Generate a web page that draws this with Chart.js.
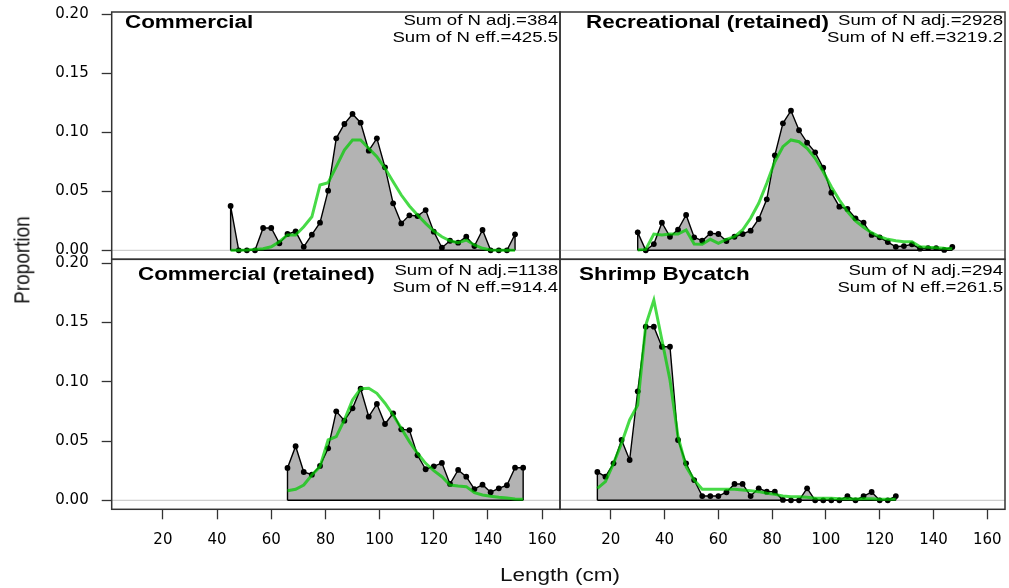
<!DOCTYPE html>
<html>
<head>
<meta charset="utf-8">
<script src="https://cdn.jsdelivr.net/npm/chart.js@4.4.1/dist/chart.umd.min.js"></script>
<style>
html,body{margin:0;padding:0;background:#fff;}
#wrap{position:relative;width:1009px;height:588px;overflow:hidden;background:#fff;}
#wrap canvas{position:absolute;left:0;top:0;}
.ttl{position:absolute;font-family:'Liberation Sans',Arial,sans-serif;color:#111;white-space:nowrap;line-height:1;}
#xt{left:560px;top:575px;font-size:18px;transform:translate(-50%,-50%) scaleX(1.25);}
#yt{left:22px;top:260px;font-size:19px;transform:translate(-50%,-50%) rotate(-90deg) scaleY(1.2);}
</style>
</head>
<body>
<div id="wrap">
<canvas id="c0" width="1009" height="588"></canvas>
<canvas id="c1" width="1009" height="588"></canvas>
<canvas id="c2" width="1009" height="588"></canvas>
<canvas id="c3" width="1009" height="588"></canvas>
<div class="ttl" id="xt">Length (cm)</div>
<div class="ttl" id="yt">Proportion</div>
</div>
<script>
// ---------- data ----------
const commercialLen = [45,48,51,54,57,60,63,66,69,72,75,78,81,84,87,90,93,96,99,102,105,108,111,114,117,120,123,126,129,132,135,138,141,144,147,150];
const commercialObs = [0.0375,0,0,0,0.0189,0.0189,0.006,0.0138,0.016,0.003,0.0132,0.0234,0.0505,0.0948,0.1069,0.1154,0.108,0.0843,0.0948,0.0702,0.0398,0.0228,0.0296,0.029,0.0341,0.0158,0.0022,0.0081,0.0065,0.0115,0.0036,0.0172,0,0,0,0.0135];
const commercialExp = [0,0,0.0003,0.0008,0.0014,0.003,0.0073,0.013,0.013,0.02,0.0284,0.0553,0.0572,0.0708,0.0849,0.0934,0.0934,0.0863,0.0792,0.0694,0.0581,0.0468,0.0375,0.0299,0.0228,0.0163,0.0115,0.0081,0.0065,0.0087,0.0045,0.0017,0.0003,0.0001,0.0001,0.0001];

const recreationalLen = [30,33,36,39,42,45,48,51,54,57,60,63,66,69,72,75,78,81,84,87,90,93,96,99,102,105,108,111,114,117,120,123,126,129,132,135,138,141,144,147];
const recreationalObs = [0.0152,0,0.0053,0.0234,0.0115,0.0175,0.0299,0.011,0.0081,0.0144,0.0138,0.0079,0.0115,0.0138,0.0166,0.0265,0.0432,0.0804,0.1075,0.1182,0.1016,0.0911,0.0829,0.0699,0.0488,0.0369,0.035,0.0271,0.0234,0.013,0.011,0.007,0.003,0.0036,0.0051,0.0014,0.0019,0.0019,0.0003,0.0028];
const recreationalExp = [0.0003,0.0008,0.0138,0.013,0.0138,0.0138,0.0172,0.0053,0.0051,0.0093,0.0059,0.0093,0.0115,0.0172,0.0271,0.0398,0.0567,0.075,0.0877,0.0934,0.0919,0.0863,0.0779,0.0665,0.0538,0.0426,0.0327,0.0248,0.0195,0.0149,0.0115,0.0093,0.0081,0.0073,0.0073,0.003,0.0025,0.0022,0.0017,0.0014];

const commRetLen = [66,69,72,75,78,81,84,87,90,93,96,99,102,105,108,111,114,117,120,123,126,129,132,135,138,141,144,147,150,153];
const commRetObs = [0.0273,0.0456,0.0239,0.0216,0.029,0.0439,0.0751,0.0672,0.0776,0.0942,0.0706,0.0813,0.0644,0.0734,0.0599,0.0593,0.038,0.0262,0.0287,0.0315,0.0138,0.0256,0.0199,0.0095,0.0132,0.0068,0.0101,0.0127,0.0275,0.0275];
const commRetExp = [0.0081,0.0093,0.0129,0.0213,0.0284,0.0509,0.0537,0.0678,0.0846,0.0942,0.0945,0.0903,0.0819,0.072,0.0608,0.0495,0.0397,0.0312,0.025,0.0199,0.0129,0.0121,0.0115,0.0064,0.0045,0.0034,0.0025,0.002,0.0011,0.0008];

const shrimpLen = [15,18,21,24,27,30,33,36,39,42,45,48,51,54,57,60,63,66,69,72,75,78,81,84,87,90,93,96,99,102,105,108,111,114,117,120,123,126];
const shrimpObs = [0.0239,0.0199,0.0312,0.0509,0.034,0.092,0.1465,0.1465,0.1296,0.1296,0.0509,0.0312,0.0171,0.0036,0.0036,0.0036,0.0068,0.0138,0.0138,0.0036,0.0101,0.0073,0.0073,0.0003,0,0,0.0101,0,0,0,0,0.0036,0,0.0036,0.007,0,0,0.0036];
const shrimpExp = [0.0101,0.0157,0.0312,0.0481,0.0678,0.0804,0.148,0.169,0.1353,0.1015,0.0537,0.0284,0.0171,0.0093,0.0093,0.0093,0.0093,0.0093,0.0087,0.008,0.0073,0.0059,0.005,0.0036,0.003,0.003,0.0025,0.0017,0.0017,0.0017,0.0014,0.0014,0.0011,0.0014,0.0014,0.0008,0.0008,0.0008];

const panelTitles = ['Commercial','Recreational (retained)','Commercial (retained)','Shrimp Bycatch'];
const sumAdjLabels = ['Sum of N adj.=384','Sum of N adj.=2928','Sum of N adj.=1138','Sum of N adj.=294'];
const sumEffLabels = ['Sum of N eff.=425.5','Sum of N eff.=3219.2','Sum of N eff.=914.4','Sum of N eff.=261.5'];
const yTickValues = [0, 0.05, 0.10, 0.15, 0.20];
const xTickValues = [20, 40, 60, 80, 100, 120, 140, 160];

// ---------- layout ----------
const W = 1009, H = 588;
const colEdges = [111.7, 560, 1007.7];
const rowEdges = [12, 259.3, 509.3];
const yRanges = [[-0.0076, 0.2017], [-0.0076, 0.2034]];
const xRange = [1.1, 166.6];
const titleX = [125, 586, 138, 579];
const titleBase = [28, 280];
const sumBase = [[25, 42], [275, 292]];
const FILL = '#b3b3b3';
const EXPCOL = 'rgba(0,204,0,0.72)';

function stretchText(ctx, txt, x, y, align, sx) {
  ctx.save();
  ctx.translate(x, y);
  ctx.scale(sx, 1);
  ctx.textAlign = align;
  ctx.textBaseline = 'alphabetic';
  ctx.fillText(txt, 0, 0);
  ctx.restore();
}

const framePlugin = {
  id: 'frame',
  afterDraw(chart, args, o) {
    const ctx = chart.ctx, a = chart.chartArea;
    ctx.save();
    ctx.strokeStyle = '#333';
    ctx.lineWidth = 1.5;
    ctx.strokeRect(a.left, a.top, a.right - a.left, a.bottom - a.top);
    ctx.fillStyle = '#000';
    ctx.font = 'bold 18px "Liberation Sans", Arial, sans-serif';
    stretchText(ctx, o.title, o.tx, o.tb, 'left', 1.245);
    ctx.font = '15px "Liberation Sans", Arial, sans-serif';
    stretchText(ctx, o.adj, a.right - 2, o.sb[0], 'right', 1.24);
    stretchText(ctx, o.eff, a.right - 2, o.sb[1], 'right', 1.24);
    ctx.restore();
  }
};

function makePanel(i, len, obs, exp) {
  const row = i < 2 ? 0 : 1, col = i % 2;
  const left = colEdges[col], right = colEdges[col + 1];
  const top = rowEdges[row], bottom = rowEdges[row + 1];
  const showY = col === 0, showX = row === 1;
  const pts = len.map((x, k) => ({x: x, y: obs[k]}));
  const poly = [{x: len[0], y: 0}].concat(pts, [{x: len[len.length - 1], y: 0}]);
  const base = [{x: len[0], y: 0}, {x: len[len.length - 1], y: 0}];
  const expPts = len.map((x, k) => ({x: x, y: exp[k]}));
  const zero = [{x: xRange[0], y: 0}, {x: xRange[1], y: 0}];
  const tickFont = {family: '"DejaVu Sans", sans-serif', size: 15};
  new Chart(document.getElementById('c' + i), {
    type: 'line',
    data: {datasets: [
      {data: zero, borderColor: '#c4c4c4', borderWidth: 1, pointRadius: 0, fill: false, order: 6},
      {data: poly, fill: 'origin', backgroundColor: FILL, borderColor: '#000', borderWidth: 1.4, pointRadius: 0, order: 5},
      {data: base, borderColor: '#000', borderWidth: 1.4, pointRadius: 0, fill: false, order: 4},
      {data: pts, showLine: false, pointRadius: 2.9, pointBackgroundColor: '#000', pointBorderWidth: 0, fill: false, order: 3},
      {data: expPts, borderColor: EXPCOL, borderWidth: 3, pointRadius: 0, fill: false, order: 2}
    ]},
    options: {
      responsive: false, animation: false, devicePixelRatio: 1,
      layout: {padding: {left: showY ? 0 : left, right: W - right, top: top, bottom: showX ? 0 : H - bottom}},
      elements: {line: {tension: 0}},
      plugins: {
        legend: {display: false}, tooltip: {enabled: false},
        frame: {title: panelTitles[i], adj: sumAdjLabels[i], eff: sumEffLabels[i], tx: titleX[i], tb: titleBase[row], sb: sumBase[row]}
      },
      scales: {
        x: {
          type: 'linear', min: xRange[0], max: xRange[1], display: showX,
          afterFit: s => { if (showX) { s.height = H - bottom; s.paddingLeft = 0; s.paddingRight = 0; } },
          afterBuildTicks: s => { s.ticks = xTickValues.map(v => ({value: v})); },
          grid: {drawOnChartArea: false, drawTicks: true, tickLength: 10, tickColor: '#333', tickWidth: 1.3},
          border: {display: false},
          ticks: {autoSkip: false, maxRotation: 0, padding: 12, color: '#000', font: tickFont}
        },
        y: {
          type: 'linear', min: yRanges[row][0], max: yRanges[row][1], display: showY,
          afterFit: s => { if (showY) { s.width = left; s.paddingTop = 0; s.paddingBottom = 0; } },
          afterBuildTicks: s => { s.ticks = yTickValues.map(v => ({value: v})); },
          grid: {drawOnChartArea: false, drawTicks: true, tickLength: 10, tickColor: '#333', tickWidth: 1.3},
          border: {display: false},
          ticks: {autoSkip: false, padding: 13, color: '#000', font: tickFont, callback: v => Number(v).toFixed(2)}
        }
      }
    },
    plugins: [framePlugin]
  });
}

makePanel(0, commercialLen, commercialObs, commercialExp);
makePanel(1, recreationalLen, recreationalObs, recreationalExp);
makePanel(2, commRetLen, commRetObs, commRetExp);
makePanel(3, shrimpLen, shrimpObs, shrimpExp);
</script>
</body>
</html>
